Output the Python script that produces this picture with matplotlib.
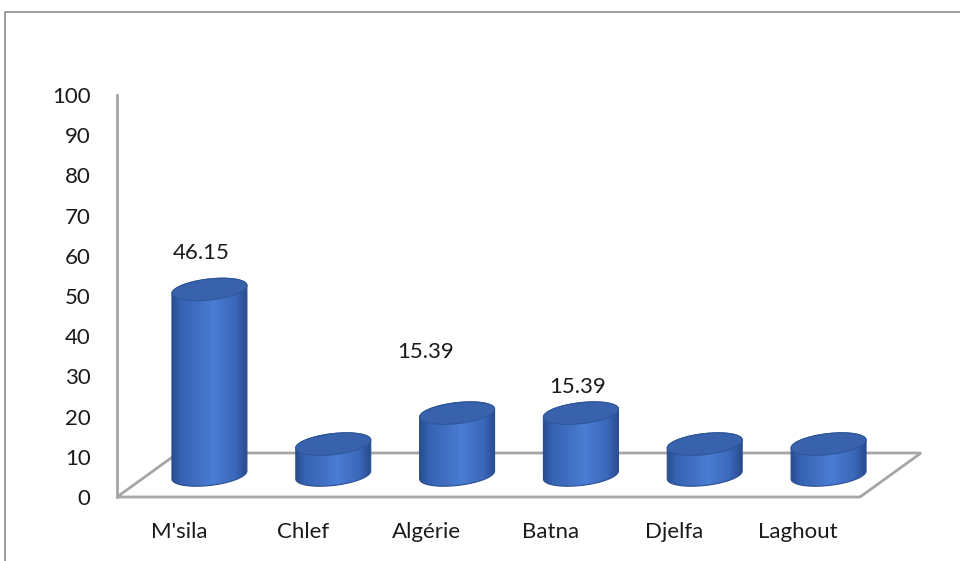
import numpy as np
import matplotlib
matplotlib.use('Agg')
import matplotlib.pyplot as plt
from matplotlib.patches import Polygon, PathPatch
from matplotlib.path import Path
from matplotlib.lines import Line2D
from matplotlib.colors import LinearSegmentedColormap

regions = ["M'sila", "Chlef", "Algérie", "Batna", "Djelfa", "Laghout"]
percent = [46.15, 7.69, 15.39, 15.39, 7.69, 7.69]
shown_labels = ["46.15", "", "15.39", "15.39", "", ""]
yticks = list(range(0, 101, 10))

# where the value labels sit relative to the bar top (pixels)
label_shift = {0: (-8, 36), 2: (-32, 61), 3: (-3, 26)}

plt.rcParams['font.family'] = ['Lato', 'DejaVu Sans']

n = len(regions)
extra = 0.6   # room on the right for the floor depth
fig = plt.figure(figsize=(9.6, 5.61), dpi=100)
ax = fig.add_axes([117/960, 64/561, 743/960 * (n + extra) / n, 402/561])
ax.set_xlim(-0.5, n - 0.5 + extra)
ax.set_ylim(0, 100)

ppx = 743 / n       # pixels per category
ppy = 402 / 100.0   # pixels per value unit

# floor depth (pixels -> data)
dx = 61 / ppx
dy = 44 / ppy

grey = '#a6a6a6'
right = n - 0.5
floor = Polygon([(-0.5, 0), (right, 0), (right + dx, dy), (-0.5 + dx, dy)],
                closed=True, facecolor='white', edgecolor=grey, lw=2,
                clip_on=False, zorder=1)
ax.add_patch(floor)

for s in ['top', 'right', 'bottom']:
    ax.spines[s].set_visible(False)
ax.spines['left'].set_color(grey)
ax.spines['left'].set_linewidth(2)

ax.set_yticks(yticks)
ax.set_xticks(range(n))
ax.set_xticklabels(regions)
ax.tick_params(axis='y', length=0, pad=19, labelsize=16)
ax.tick_params(axis='x', length=0, pad=18, labelsize=16)
for lab in ax.get_xticklabels() + ax.get_yticklabels():
    lab.set_color('#1a1a1a')

# cylinder shading
body_cmap = LinearSegmentedColormap.from_list(
    'cyl', [(0.0, '#284c8e'), (0.12, '#3662b2'), (0.55, '#4a7dd3'),
            (0.85, '#3a67b9'), (1.0, '#284b8c')])
grad = np.linspace(0, 1, 256).reshape(1, -1)

a = 37.5 / ppx
b = 10.5 / ppy
k = 4.0 / ppy

def ellipse_pts(cx, cy, t):
    return np.column_stack([cx + a * np.cos(t), cy + b * np.sin(t) + k * np.cos(t)])

for i, v in enumerate(percent):
    cx = i + dx / 2
    y0 = dy / 2
    y1 = v + dy / 2
    lower = ellipse_pts(cx, y0, np.linspace(np.pi, 2 * np.pi, 60))
    upper = ellipse_pts(cx, y1, np.linspace(0, np.pi, 60))
    verts = np.vstack([lower, upper, lower[:1]])
    body = PathPatch(Path(verts, closed=True), facecolor='none',
                     edgecolor='#2b4f92', lw=0.8, zorder=3, clip_on=False)
    ax.add_patch(body)
    im = ax.imshow(grad, cmap=body_cmap, aspect='auto', interpolation='bicubic',
                   extent=[cx - a, cx + a, y0 - b - k, y1 + b + k], zorder=2)
    im.set_clip_path(body)
    cap = Polygon(ellipse_pts(cx, y1, np.linspace(0, 2 * np.pi, 120)), closed=True,
                  facecolor='#3862ab', edgecolor='#2f5699', lw=0.8, zorder=4,
                  clip_on=False)
    ax.add_patch(cap)
    if shown_labels[i]:
        ox, oy = label_shift[i]
        ax.annotate(shown_labels[i], xy=(cx, y1), xytext=(ox, oy),
                    textcoords='offset pixels', ha='center', va='center',
                    fontsize=16, color='#1a1a1a', zorder=5)

ax.set_xlim(-0.5, n - 0.5 + extra)
ax.set_ylim(0, 100)
ax.set_facecolor('none')

# chart frame
fig.add_artist(Line2D([5/960, 5/960, 1.0], [0.0, 1 - 12/561, 1 - 12/561],
                      transform=fig.transFigure, color='#8c8c8c', lw=1.2))

fig.savefig('out.png', dpi=100, facecolor='white')
